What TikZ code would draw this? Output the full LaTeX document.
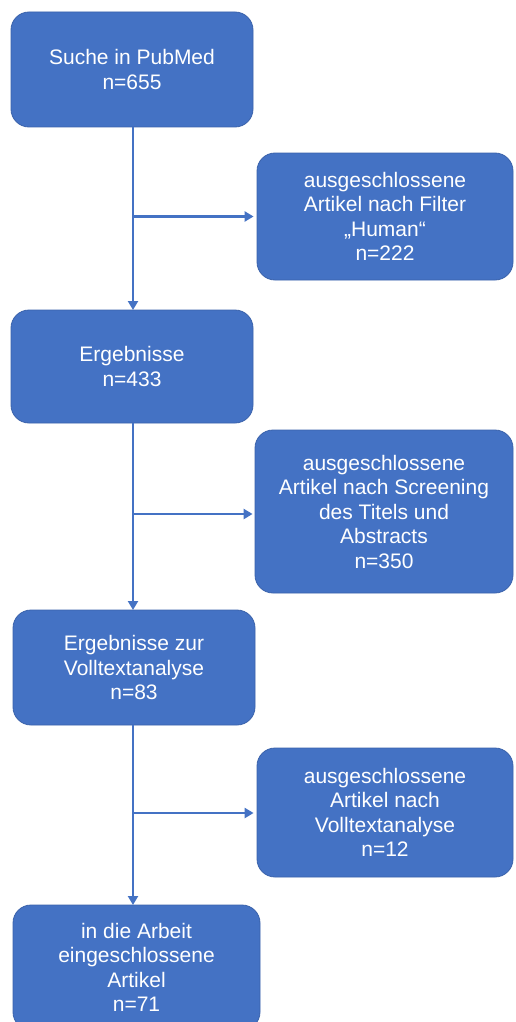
\documentclass[tikz,border=0pt]{standalone}
\usepackage{fontspec}
\setmainfont{Liberation Sans}
\usetikzlibrary{arrows.meta}
\definecolor{boxblue}{HTML}{4472C4}
\definecolor{edgeblue}{HTML}{3A62AB}
\begin{document}
\begin{tikzpicture}[x=1pt,y=-1pt,
  box/.style={draw=edgeblue, line width=0.8pt, fill=boxblue, rounded corners=18pt,
    text=white, align=center, inner sep=0pt,
    font=\fontsize{21}{24.5}\selectfont},
  conn/.style={draw=boxblue, line width=2.5pt},
  arr/.style={conn, -{Triangle[length=9pt,width=10pt]}}]
\useasboundingbox (0,0) rectangle (515,1022);
\fill[white] (0,0) rectangle (515,1022);
\node[box, minimum width=242pt, minimum height=115pt] (b1) at (132,69.5) {Suche in PubMed\\n=655};
\node[box, minimum width=256pt, minimum height=127pt] (b2) at (385,216.5) {ausgeschlossene\\Artikel nach Filter\\„Human“\\n=222};
\node[box, minimum width=242pt, minimum height=113pt] (b3) at (132,366.5) {Ergebnisse\\n=433};
\node[box, minimum width=258pt, minimum height=163pt] (b4) at (384,511.5) {ausgeschlossene\\Artikel nach Screening\\des Titels und\\Abstracts\\n=350};
\node[box, minimum width=242pt, minimum height=115pt] (b5) at (134,667.5) {Ergebnisse zur\\Volltextanalyse\\n=83};
\node[box, minimum width=256pt, minimum height=129pt] (b6) at (385,812.5) {ausgeschlossene\\Artikel nach\\Volltextanalyse\\n=12};
\node[box, minimum width=247pt, minimum height=125pt] (b7) at (136.5,967.5) {in die Arbeit\\eingeschlossene\\Artikel\\n=71};
% vertical connectors
\coordinate (t1) at (133,127);
\coordinate (t3) at (133,310);
\coordinate (s3) at (133,423);
\coordinate (t5) at (133,610);
\coordinate (s5) at (133,725);
\coordinate (t7) at (133,905);
\draw[arr] (t1) -- (t3);
\draw[arr] (s3) -- (t5);
\draw[arr] (s5) -- (t7);
% branches
\coordinate (j1) at (133,216.5);
\coordinate (j2) at (133,514);
\coordinate (j3) at (133,813);
\draw[arr] (j1) -- ([xshift=-3pt]b2.west);
\draw[arr] (j2) -- ([xshift=-2pt]b4.west |- j2);
\draw[arr] (j3) -- ([xshift=-3pt]b6.west |- j3);
\end{tikzpicture}
\end{document}
